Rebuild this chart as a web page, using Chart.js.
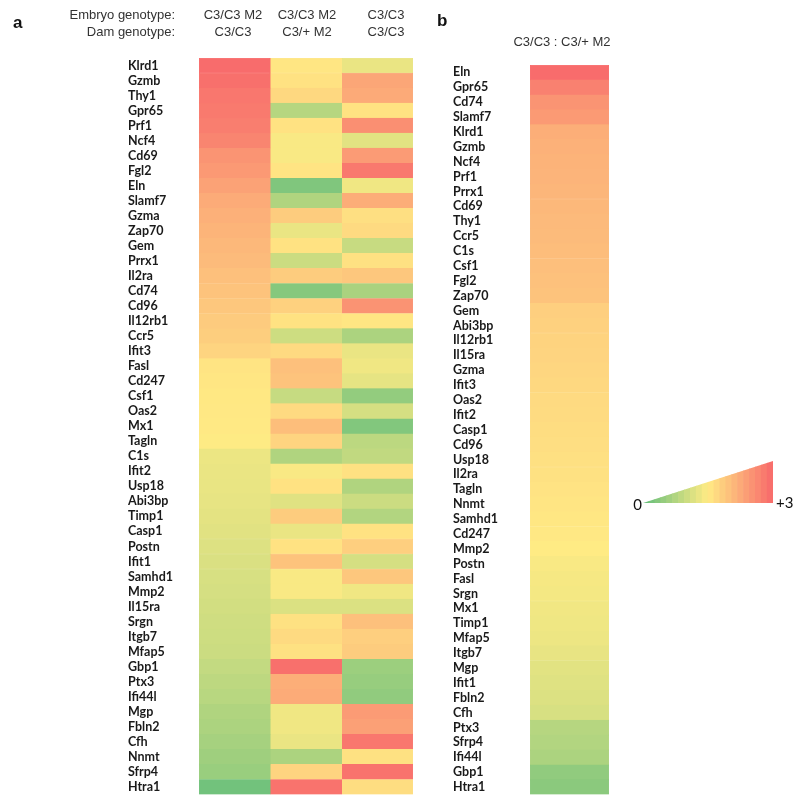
<!DOCTYPE html>
<html>
<head>
<meta charset="utf-8">
<script src="https://cdn.jsdelivr.net/npm/chart.js@4.4.1/dist/chart.umd.min.js"></script>
<style>
  html, body { margin: 0; padding: 0; background: #fff; }
  body { width: 796px; height: 802px; position: relative; overflow: hidden;
         font-family: "Liberation Sans", Arial, sans-serif; color: #333; }
  .txt { position: absolute; font-size: 13px; line-height: 17px; white-space: nowrap; }
  .panel { position: absolute; font-size: 17px; font-weight: bold; color: #111; }
  .hdr { position: absolute; text-align: center; transform: translateX(-50%); }
  canvas { position: absolute; top: 0; }
</style>
</head>
<body>
<canvas id="panelA" style="left:0px;" width="420" height="802"></canvas>
<canvas id="panelB" style="left:420px;" width="376" height="802"></canvas>

<div class="panel" style="left:13px; top:13px;">a</div>
<div class="txt" style="right:621px; top:6px; text-align:right;">Embryo genotype:<br>Dam genotype:</div>
<div class="txt hdr" id="h0" style="left:233px; top:6px;"></div>
<div class="txt hdr" id="h1" style="left:307px; top:6px;"></div>
<div class="txt hdr" id="h2" style="left:386px; top:6px;"></div>
<div class="panel" style="left:437px; top:11px;">b</div>
<div class="txt hdr" id="hb" style="left:562px; top:33px;"></div>

<script>
// ---- Panel a: expression relative to the reference (0 = low, +3 = high) ----
const genesA = ["Klrd1","Gzmb","Thy1","Gpr65","Prf1","Ncf4","Cd69","Fgl2","Eln","Slamf7",
  "Gzma","Zap70","Gem","Prrx1","Il2ra","Cd74","Cd96","Il12rb1","Ccr5","Ifit3",
  "Fasl","Cd247","Csf1","Oas2","Mx1","Tagln","C1s","Ifit2","Usp18","Abi3bp",
  "Timp1","Casp1","Postn","Ifit1","Samhd1","Mmp2","Il15ra","Srgn","Itgb7","Mfap5",
  "Gbp1","Ptx3","Ifi44l","Mgp","Fbln2","Cfh","Nnmt","Sfrp4","Htra1"];

const embryoGenotypes = ["C3/C3 M2", "C3/C3 M2", "C3/C3"];
const damGenotypes    = ["C3/C3", "C3/+ M2", "C3/C3"];

const m2OnC3Dam = [2.97,2.92,2.84,2.80,2.76,2.68,2.50,2.45,2.34,2.24,
  2.18,2.14,2.09,2.05,2.00,1.96,1.92,1.87,1.84,1.76,
  1.58,1.56,1.54,1.53,1.52,1.49,1.32,1.30,1.29,1.27,
  1.24,1.21,1.17,1.14,1.12,1.10,1.07,1.04,1.02,1.00,
  0.92,0.87,0.82,0.74,0.70,0.64,0.58,0.52,0.14];

const m2OnM2Dam = [1.56,1.60,1.72,0.80,1.60,1.44,1.44,1.58,0.28,0.74,
  1.86,1.30,1.60,1.00,1.86,0.34,1.80,1.60,1.02,1.70,
  2.00,1.96,0.95,1.70,2.02,1.76,0.74,1.44,1.60,1.20,
  1.86,1.30,1.60,1.96,1.44,1.44,1.15,1.62,1.70,1.62,
  2.92,2.20,2.24,1.36,1.36,1.30,0.70,1.76,2.88];

const wtOnC3Dam = [1.30,2.30,2.25,1.60,2.56,1.22,2.42,2.82,1.36,2.22,
  1.64,1.70,0.96,1.62,1.92,0.68,2.52,1.56,0.70,1.30,
  1.36,1.26,0.46,1.10,0.30,0.86,0.90,1.62,0.74,1.00,
  0.76,1.60,1.82,1.10,1.92,1.36,1.15,2.00,1.82,1.86,
  0.55,0.50,0.44,2.42,2.36,2.84,1.62,2.88,1.66];

// ---- Panel b: C3/C3 : C3/+ M2 ratio ----
const genesB = ["Eln","Gpr65","Cd74","Slamf7","Klrd1","Gzmb","Ncf4","Prf1","Prrx1","Cd69",
  "Thy1","Ccr5","C1s","Csf1","Fgl2","Zap70","Gem","Abi3bp","Il12rb1","Il15ra",
  "Gzma","Ifit3","Oas2","Ifit2","Casp1","Cd96","Usp18","Il2ra","Tagln","Nnmt",
  "Samhd1","Cd247","Mmp2","Postn","Fasl","Srgn","Mx1","Timp1","Mfap5","Itgb7",
  "Mgp","Ifit1","Fbln2","Cfh","Ptx3","Sfrp4","Ifi44l","Gbp1","Htra1"];

const ratioB = [2.96,2.72,2.50,2.44,2.20,2.17,2.15,2.13,2.11,2.09,
  2.07,2.05,2.03,2.01,1.99,1.96,1.82,1.80,1.78,1.76,
  1.74,1.72,1.70,1.68,1.66,1.65,1.63,1.61,1.59,1.57,
  1.55,1.53,1.50,1.44,1.41,1.39,1.37,1.35,1.33,1.28,
  1.22,1.19,1.16,1.12,0.80,0.76,0.70,0.44,0.38];

const legendMin = "0", legendMax = "+3";

// three-colour scale: green -> yellow -> red
const GREEN = [99,190,123], YELLOW = [255,235,132], RED = [248,105,107];
function colorAt(v) {
  const t = Math.max(0, Math.min(3, v)) / 3;
  let a, b, f;
  if (t < 0.5) { a = GREEN; b = YELLOW; f = t / 0.5; }
  else { a = YELLOW; b = RED; f = (t - 0.5) / 0.5; }
  const c = a.map((x, i) => Math.round(x + (b[i] - x) * f));
  return `rgb(${c[0]},${c[1]},${c[2]})`;
}

// header text
for (let i = 0; i < 3; i++) {
  const el = document.getElementById('h' + i);
  el.innerHTML = embryoGenotypes[i] + '<br>' + damGenotypes[i];
}
document.getElementById('hb').textContent = 'C3/C3 : C3/+ M2';

const labelFont = { family: 'Lato, "Open Sans", sans-serif', size: 12.5, weight: 'bold' };

// one column of cells: each cell spans [col, col+1] on the x scale
function cellDataset(values, col) {
  return {
    data: values.map(() => [col, col + 1]),
    backgroundColor: values.map(colorAt),
    borderColor: values.map(colorAt),
    borderWidth: 0.5,
    borderSkipped: false,
    grouped: false,
    barPercentage: 1,
    categoryPercentage: 1
  };
}

function heatOptions(axisWidth, padding, nCols) {
  return {
    indexAxis: 'y',
    responsive: false,
    animation: false,
    events: [],
    layout: { padding },
    plugins: { legend: { display: false }, tooltip: { enabled: false } },
    scales: {
      x: { type: 'linear', min: 0, max: nCols, display: false },
      y: {
        type: 'category',
        grid: { display: false, drawTicks: false },
        border: { display: false },
        ticks: { color: '#1a1a1a', font: labelFont, crossAlign: 'far', padding: 0, autoSkip: false },
        afterFit(scale) { scale.width = axisWidth; }
      }
    }
  };
}

// colour-key triangle drawn beside panel b
const keyPlugin = {
  id: 'colorKey',
  afterDraw(chart) {
    const ctx = chart.ctx;
    const x0 = 223, x1 = 353, yb = 503, yt = 461, bands = 22;
    ctx.save();
    ctx.beginPath();
    ctx.moveTo(x0, yb); ctx.lineTo(x1, yt); ctx.lineTo(x1, yb); ctx.closePath();
    ctx.clip();
    const w = (x1 - x0) / bands;
    for (let i = 0; i < bands; i++) {
      ctx.fillStyle = colorAt(3 * (i + 0.5) / bands);
      ctx.fillRect(x0 + i * w - 0.3, yt, w + 0.6, yb - yt);
    }
    ctx.restore();
    ctx.save();
    ctx.fillStyle = '#111';
    ctx.font = '15px Lato, "Open Sans", sans-serif';
    ctx.textBaseline = 'middle';
    ctx.textAlign = 'right';
    ctx.fillText(legendMin, 222, 505);
    ctx.textAlign = 'left';
    ctx.fillText(legendMax, 356, 503);
    ctx.restore();
  }
};

new Chart(document.getElementById('panelA'), {
  type: 'bar',
  data: {
    labels: genesA,
    datasets: [cellDataset(m2OnC3Dam, 0), cellDataset(m2OnM2Dam, 1), cellDataset(wtOnC3Dam, 2)]
  },
  options: heatOptions(71, { left: 128, right: 7, top: 58, bottom: 2 }, 3)
});

new Chart(document.getElementById('panelB'), {
  type: 'bar',
  data: { labels: genesB, datasets: [cellDataset(ratioB, 0)] },
  options: heatOptions(77, { left: 33, right: 187, top: 65, bottom: 2 }, 1),
  plugins: [keyPlugin]
});
</script>
</body>
</html>
